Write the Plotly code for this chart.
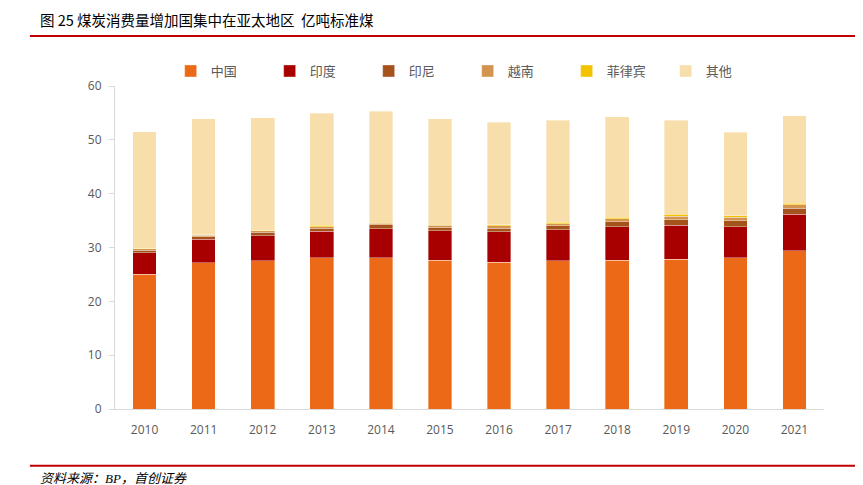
import plotly.graph_objects as go

years = ["2010", "2011", "2012", "2013", "2014", "2015", "2016", "2017", "2018", "2019", "2020", "2021"]
china = [25.0, 27.2, 27.5, 28.1, 28.1, 27.6, 27.3, 27.5, 27.6, 27.8, 28.1, 29.4]
india = [4.0, 4.3, 4.7, 4.9, 5.4, 5.5, 5.6, 5.8, 6.3, 6.3, 5.8, 6.8]
indonesia = [0.5, 0.5, 0.6, 0.6, 0.7, 0.6, 0.7, 0.7, 0.9, 1.1, 1.1, 1.1]
vietnam = [0.3, 0.3, 0.3, 0.3, 0.3, 0.4, 0.4, 0.4, 0.5, 0.6, 0.6, 0.6]
philippines = [0.1, 0.1, 0.1, 0.2, 0.2, 0.2, 0.2, 0.3, 0.3, 0.4, 0.3, 0.3]
others = [21.6, 21.5, 20.9, 20.8, 20.6, 19.6, 19.1, 18.9, 18.7, 17.4, 15.5, 16.3]

series = [
    ("中国", china, "#EC6A17"),
    ("印度", india, "#A80000"),
    ("印尼", indonesia, "#A6521D"),
    ("越南", vietnam, "#D3944F"),
    ("菲律宾", philippines, "#F3C300"),
    ("其他", others, "#F8DEAB"),
]

fig = go.Figure()
for name, vals, color in series:
    fig.add_trace(go.Bar(
        x=years, y=vals, name=name,
        marker=dict(color=color, line=dict(color="rgba(255,255,255,0.6)", width=0.6)),
    ))

font_cjk = "Noto Sans CJK SC"

# page body has an 8px margin, so the figure is sized/offset to compensate
fig.update_layout(
    barmode="stack",
    bargap=0.6,
    width=855, height=477,
    margin=dict(l=107, r=39, t=78, b=76),
    paper_bgcolor="white", plot_bgcolor="white",
    font=dict(family="Open Sans, " + font_cjk, color="#595959", size=12),
    legend=dict(
        orientation="h", x=0.0785, y=1.0, yanchor="bottom", xanchor="left",
        font=dict(family=font_cjk, size=13, color="#595959"),
        entrywidth=54, entrywidthmode="pixels",
        traceorder="normal",
        itemclick=False,
    ),
    xaxis=dict(
        showline=True, linecolor="#D9D9D9", linewidth=1,
        ticks="", tickfont=dict(size=12, color="#595959"),
        ticklabelstandoff=10,
        showgrid=False,
    ),
    yaxis=dict(
        range=[0, 60], dtick=10,
        showline=True, linecolor="#D9D9D9", linewidth=1,
        ticks="outside", ticklen=5, tickcolor="#D9D9D9",
        ticklabelstandoff=5,
        showgrid=False, zeroline=False,
        tickfont=dict(size=12, color="#595959"),
    ),
    showlegend=True,
)

fig.add_annotation(
    text="图 25 煤炭消费量增加国集中在亚太地区  亿吨标准煤",
    xref="paper", yref="paper", x=-0.109, y=1.205, xanchor="left", yanchor="middle",
    showarrow=False, font=dict(family=font_cjk, size=14.5, color="#000000"),
)
fig.add_annotation(
    text="<i>资料来源：BP，首创证券</i>",
    xref="paper", yref="paper", x=-0.109, y=-0.214, xanchor="left", yanchor="middle",
    showarrow=False, font=dict(family="Liberation Serif, " + font_cjk, size=13, color="#000000"),
)
fig.add_shape(type="line", xref="paper", yref="paper", x0=-0.12, x1=1.051, y0=1.155, y1=1.155,
              line=dict(color="#C00000", width=2))
fig.add_shape(type="line", xref="paper", yref="paper", x0=-0.12, x1=1.051, y0=-0.176, y1=-0.176,
              line=dict(color="#C00000", width=2))

fig.write_html("out.html")
